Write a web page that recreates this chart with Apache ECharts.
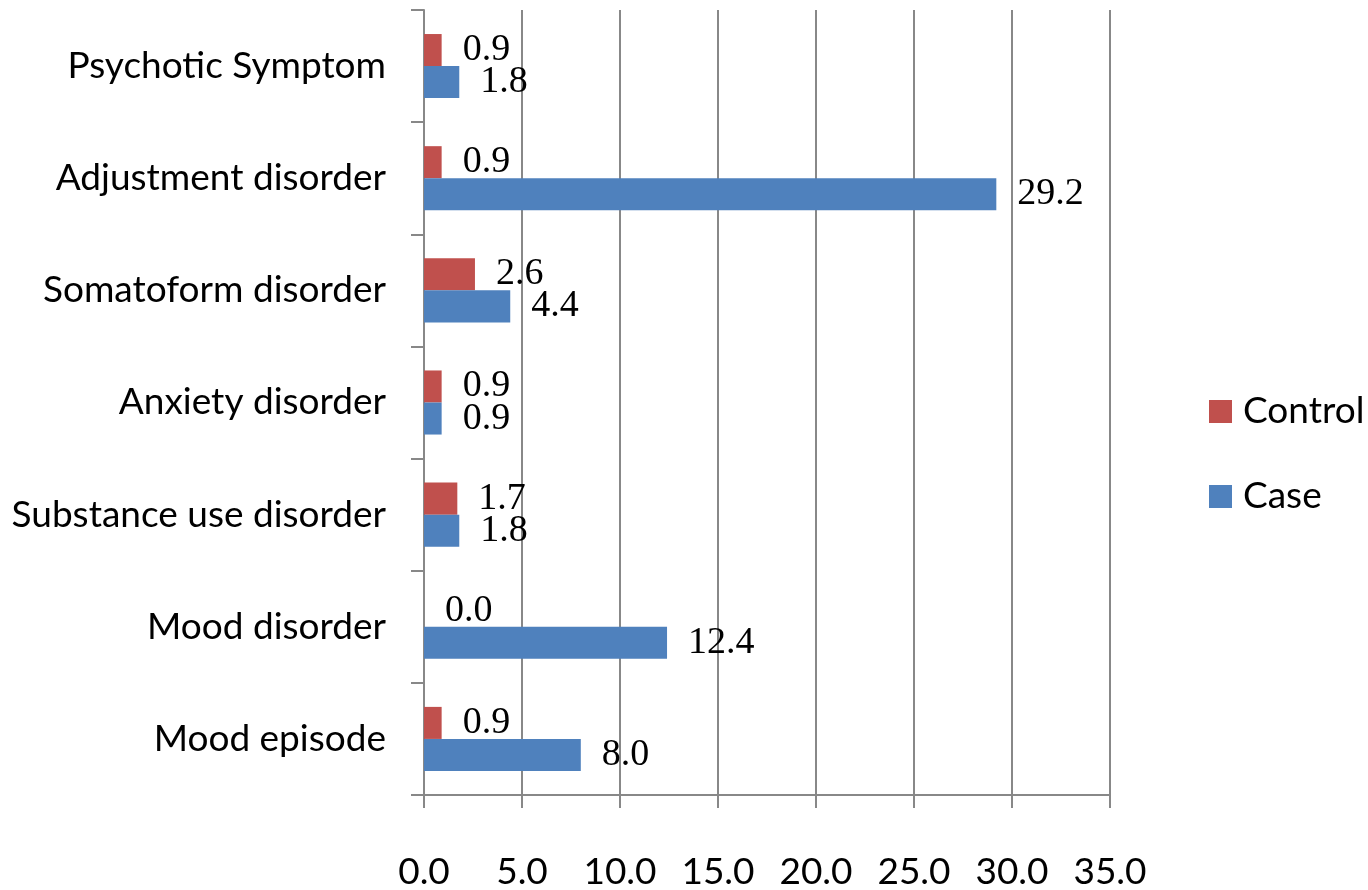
<!DOCTYPE html>
<html>
<head>
<meta charset="utf-8">
<script src="https://cdn.jsdelivr.net/npm/echarts@6/dist/echarts.min.js"></script>
<style>
  html, body { margin: 0; padding: 0; background: #fff; }
  #chart { width: 1368px; height: 890px; }
</style>
</head>
<body>
<div id="chart"></div>
<script>
// Categories listed bottom to top along the y axis
const categories = [
  'Mood episode',
  'Mood disorder',
  'Substance use disorder',
  'Anxiety disorder',
  'Somatoform disorder',
  'Adjustment disorder',
  'Psychotic Symptom'
];
const controlValues = [0.9, 0.0, 1.7, 0.9, 2.6, 0.9, 0.9];
const caseValues = [8.0, 12.4, 1.8, 0.9, 4.4, 29.2, 1.8];
const legendNames = ['Control', 'Case'];

const sansFont = 'Lato, "Liberation Sans", sans-serif';
const serifFont = '"Liberation Serif", serif';
const lineColor = '#888888';

const labelStyle = {
  show: true,
  position: 'right',
  distance: 21,
  fontFamily: serifFont,
  fontSize: 38,
  color: '#000',
  formatter: p => Number(p.value).toFixed(1)
};

const chart = echarts.init(document.getElementById('chart'));
chart.setOption({
  animation: false,
  backgroundColor: '#fff',
  grid: { left: 424, right: 258, top: 10, bottom: 95, containLabel: false, outerBoundsMode: 'none' },
  legend: {
    data: legendNames,
    orient: 'vertical',
    left: 1204,
    top: 388,
    itemWidth: 23,
    itemHeight: 23,
    itemGap: 48,
    icon: 'rect',
    textStyle: { fontFamily: sansFont, fontSize: 37, color: '#000', padding: [0, 0, 0, 6] }
  },
  xAxis: {
    type: 'value',
    min: 0,
    max: 35,
    interval: 5,
    axisLine: { show: true, lineStyle: { color: lineColor, width: 2 } },
    axisTick: { show: true, length: 13, lineStyle: { color: lineColor, width: 2 } },
    splitLine: { show: true, lineStyle: { color: lineColor, width: 2 } },
    axisLabel: {
      margin: 59,
      fontFamily: sansFont,
      fontSize: 37,
      color: '#000',
      formatter: v => v.toFixed(1)
    }
  },
  yAxis: {
    type: 'category',
    data: categories,
    axisLine: { show: true, lineStyle: { color: lineColor, width: 2 } },
    axisTick: { show: true, length: 13, lineStyle: { color: lineColor, width: 2 } },
    splitLine: { show: false },
    axisLabel: {
      margin: 38,
      fontFamily: sansFont,
      fontSize: 37,
      color: '#000'
    }
  },
  series: [
    {
      name: 'Control',
      type: 'bar',
      data: controlValues,
      itemStyle: { color: '#C0504D' },
      barGap: '0%',
      barCategoryGap: '42.86%',
      label: labelStyle
    },
    {
      name: 'Case',
      type: 'bar',
      data: caseValues,
      itemStyle: { color: '#4F81BD' },
      barGap: '0%',
      barCategoryGap: '42.86%',
      label: labelStyle
    }
  ]
});
</script>
</body>
</html>
